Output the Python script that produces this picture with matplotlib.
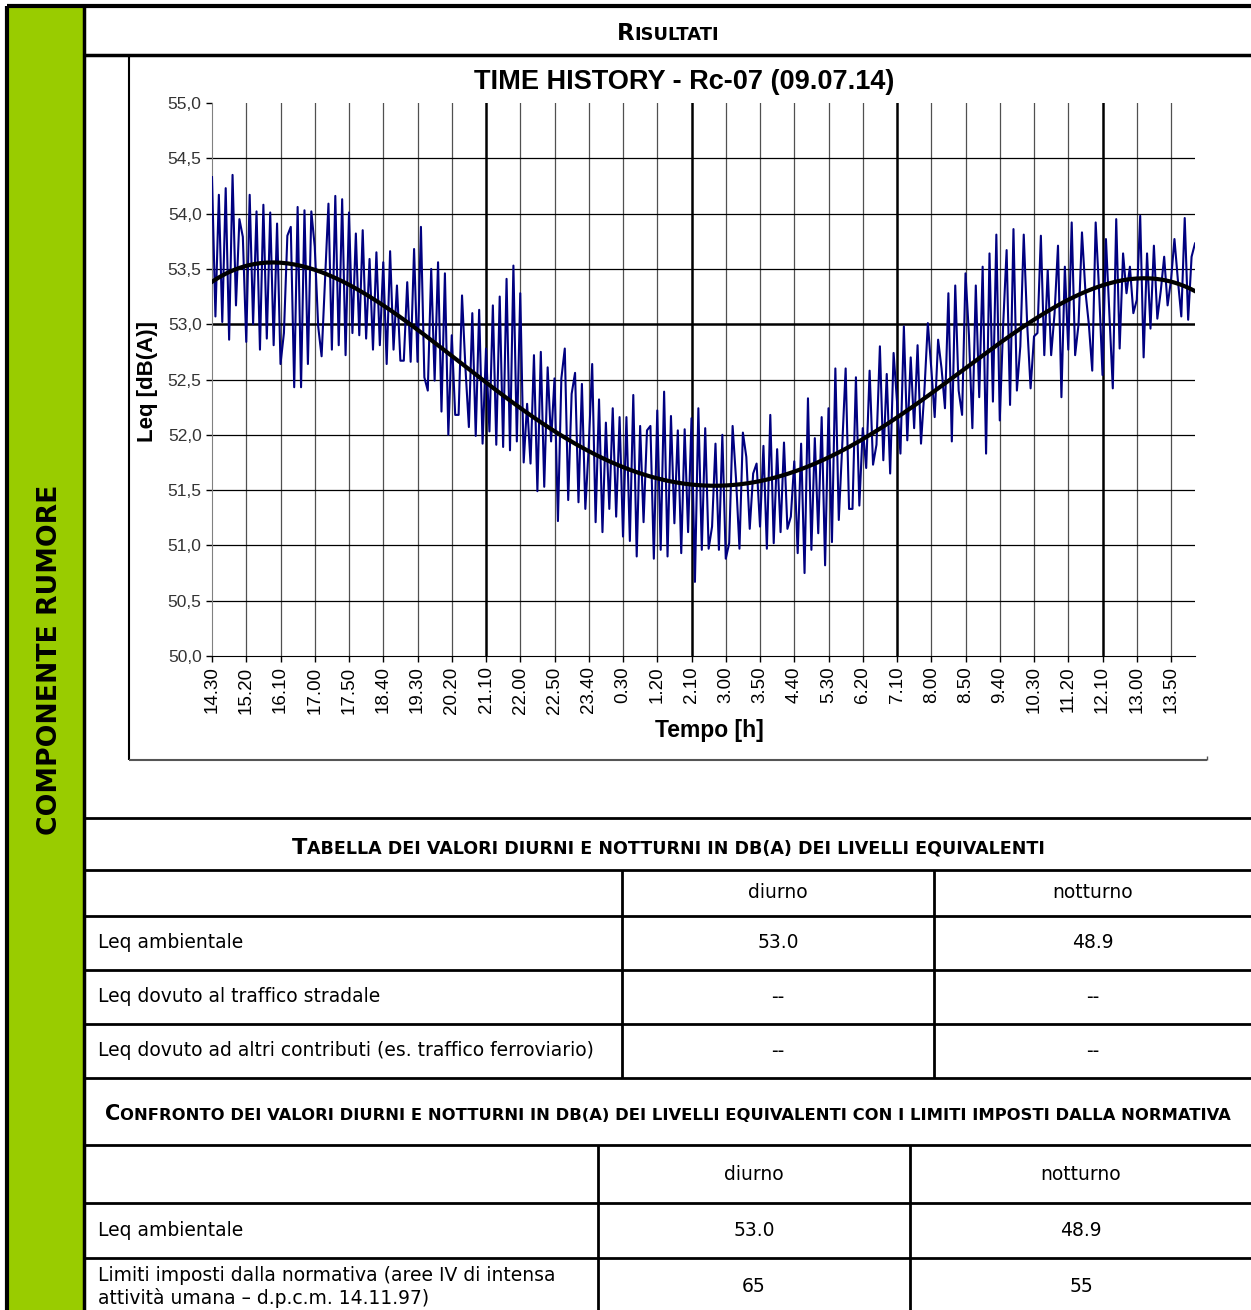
import numpy as np
import matplotlib.pyplot as plt

# Etichette dell'asse dei tempi (una ogni 10 campioni da 5 minuti)
orari = ['14.30', '15.20', '16.10', '17.00', '17.50', '18.40', '19.30', '20.20',
         '21.10', '22.00', '22.50', '23.40', '0.30', '1.20', '2.10', '3.00',
         '3.50', '4.40', '5.30', '6.20', '7.10', '8.00', '8.50', '9.40',
         '10.30', '11.20', '12.10', '13.00', '13.50']
orari_marcati = ['21.10', '2.10', '7.10', '12.10']

# Leq a 5 minuti, dB(A)
leq = [
    54.33, 53.07, 54.17, 53.02, 54.23, 52.86, 54.35, 53.17, 53.95, 53.79,
    52.84, 54.17, 53.00, 54.02, 52.77, 54.08, 52.87, 54.01, 52.81, 53.91,
    52.64, 52.92, 53.80, 53.88, 52.43, 54.06, 52.43, 54.03, 52.64, 54.02,
    53.70, 52.98, 52.71, 53.40, 54.09, 52.77, 54.16, 52.81, 54.13, 52.72,
    54.01, 52.92, 53.82, 52.90, 53.85, 52.87, 53.59, 52.77, 53.65, 52.81,
    53.56, 52.64, 53.66, 52.77, 53.35, 52.67, 52.67, 53.38, 52.66, 53.68,
    52.66, 53.88, 52.52, 52.40, 53.50, 52.49, 53.56, 52.21, 53.46, 52.00,
    52.90, 52.18, 52.18, 53.26, 52.60, 52.07, 53.10, 51.99, 53.13, 51.92,
    52.78, 52.03, 53.17, 51.91, 53.25, 51.89, 53.41, 51.86, 53.53, 51.94,
    53.28, 51.75, 52.28, 51.74, 52.72, 51.49, 52.75,
    51.53, 52.61, 51.94, 52.51, 51.22, 52.51, 52.78, 51.41, 52.37, 52.56,
    51.39, 52.46, 51.33, 51.90, 52.64, 51.21, 52.32, 51.12, 52.11, 51.33,
    52.24, 51.26, 52.16, 51.08, 52.16, 51.04, 52.36, 50.90, 52.08, 51.21,
    52.04, 52.08, 50.88, 52.22, 50.96, 52.39, 50.90, 52.17, 51.20, 52.04,
    50.93, 52.05, 51.12, 52.15, 50.67, 52.24, 50.96, 52.06, 50.97, 51.17,
    51.92, 50.96, 52.00, 50.88, 51.02, 52.08, 51.60, 50.97, 52.02, 51.80,
    51.15, 51.65, 51.74, 51.17, 51.90, 50.97, 52.18, 51.02, 51.87, 51.12,
    51.93, 51.15, 51.26, 51.76, 50.93, 51.92, 50.75, 52.33, 50.96, 51.97,
    51.11, 52.16, 50.82, 52.24, 51.03, 52.60, 51.23, 51.90, 52.60, 51.33,
    51.33, 52.52, 51.36, 52.06, 51.70, 52.58,
    51.73, 51.91, 52.80, 51.77, 52.55, 51.65, 52.74, 52.30, 51.83, 52.98,
    51.95, 52.70, 52.06, 52.81, 51.92, 52.40, 53.01, 52.60, 52.16, 52.86,
    52.60, 52.24, 53.28, 51.94, 53.35, 52.40, 52.18, 53.46, 52.90, 52.06,
    53.35, 52.34, 53.52, 51.83, 53.64, 52.30, 53.81, 52.13, 53.00, 53.67,
    52.27, 53.86, 52.40, 52.80, 53.81, 53.00, 52.42, 52.89, 52.92, 53.80,
    52.72, 53.49, 52.72, 53.10, 53.71, 52.34, 53.52, 52.77, 53.92, 52.72,
    53.00, 53.83, 53.30, 53.00, 52.58, 53.92, 53.30, 52.54, 53.77, 53.10,
    52.42, 53.95, 52.78, 53.64, 53.28, 53.52, 53.10, 53.22, 53.98, 52.70,
    53.64, 52.96, 53.71, 53.05, 53.30, 53.61, 53.17, 53.40, 53.77, 53.40,
    53.07, 53.96, 53.04, 53.61, 53.73,
]

# Tabelle dei livelli equivalenti
voci_tab1 = ['Leq ambientale', 'Leq dovuto al traffico stradale',
             'Leq dovuto ad altri contributi (es. traffico ferroviario)']
diurno_tab1 = ['53.0', '--', '--']
notturno_tab1 = ['48.9', '--', '--']

voci_tab2 = ['Leq ambientale',
             'Limiti imposti dalla normativa (aree IV di intensa\nattività umana – d.p.c.m. 14.11.97)']
diurno_tab2 = ['53.0', '65']
notturno_tab2 = ['48.9', '55']

W, H = 1251, 1310
VERDE = '#99cc00'
FS = 13.5
fig = plt.figure(figsize=(W / 100, H / 100), dpi=100)

# pagina in coordinate pixel
pag = fig.add_axes([0, 0, 1, 1])
pag.set_xlim(0, W)
pag.set_ylim(H, 0)
pag.axis('off')


def linea(x0, y0, x1, y1, lw=2.0, col='black'):
    pag.plot([x0, x1], [y0, y1], color=col, lw=lw, solid_capstyle='butt')


def maiuscoletto(cx, y, testo, size, family='DejaVu Sans'):
    # prima lettera grande, il resto in maiuscolo ridotto
    r = fig.canvas.get_renderer()
    pezzi = [(testo[0], size), (testo[1:].upper(), size * 0.78)]
    oggetti = []
    tot = 0
    for s, fs in pezzi:
        t = pag.text(0, y, s, fontsize=fs, fontweight='bold', family=family,
                     ha='left', va='baseline')
        w = t.get_window_extent(r).width
        oggetti.append((t, w))
        tot += w
    x = cx - tot / 2
    for t, w in oggetti:
        t.set_x(x)
        x += w


# colonna verde laterale e cornice
pag.add_patch(plt.Rectangle((8, 6), 76, H, color=VERDE, lw=0))
linea(7, 6, 7, H, lw=3)
linea(7, 6, W, 6, lw=3)
linea(84, 6, 84, H, lw=2.5)
pag.text(50, 660, 'COMPONENTE RUMORE', rotation=90, fontsize=19.2,
         fontweight='bold', ha='center', va='center', family='DejaVu Sans')

maiuscoletto(668, 40, 'Risultati', 16.5)
linea(84, 55, W, 55, lw=2.5)

# riquadro del grafico
linea(129, 55, 129, 760, lw=1.5)
linea(129, 760, 1207, 760, lw=1.5, col='#555555')
linea(1207, 760, 1207, 756, lw=1.0, col='#555555')

# tabella 1
linea(84, 818, W, 818)
maiuscoletto(668, 854, 'Tabella dei valori diurni e notturni in dB(A) dei livelli equivalenti', 16.2)
for yy in [870, 916, 970, 1024, 1078]:
    linea(84, yy, W, yy)
for xx in [622, 934]:
    linea(xx, 870, xx, 1078)
pag.text(778, 893, 'diurno', fontsize=FS, ha='center', va='center')
pag.text(1093, 893, 'notturno', fontsize=FS, ha='center', va='center')
for k, yy in enumerate([943, 997, 1051]):
    pag.text(98, yy, voci_tab1[k], fontsize=FS, ha='left', va='center')
    pag.text(778, yy, diurno_tab1[k], fontsize=FS, ha='center', va='center')
    pag.text(1093, yy, notturno_tab1[k], fontsize=FS, ha='center', va='center')

# tabella 2
maiuscoletto(668, 1120, 'Confronto dei valori diurni e notturni in dB(A) dei livelli equivalenti con i limiti imposti dalla normativa', 15.1)
for yy in [1145, 1203, 1258]:
    linea(84, yy, W, yy)
for xx in [598, 910]:
    linea(xx, 1145, xx, H)
pag.text(754, 1175, 'diurno', fontsize=FS, ha='center', va='center')
pag.text(1081, 1175, 'notturno', fontsize=FS, ha='center', va='center')
for k, yy in enumerate([1231, 1287]):
    pag.text(98, yy, voci_tab2[k], fontsize=FS, ha='left', va='center',
             linespacing=1.15)
    pag.text(754, yy, diurno_tab2[k], fontsize=FS, ha='center', va='center')
    pag.text(1081, yy, notturno_tab2[k], fontsize=FS, ha='center', va='center')

# grafico della time history
ax = fig.add_axes([212 / W, 1 - 656 / H, 983 / W, 553 / H])
ax.set_facecolor('none')
x = np.arange(len(leq))
ax.plot(x, leq, color='#000080', lw=1.5, zorder=3)
# linea di tendenza polinomiale
coef = np.polyfit(x, leq, 4)
ax.plot(x, np.polyval(coef, x), color='black', lw=3.0, zorder=4)

ax.set_xlim(0, len(leq) - 1)
ax.set_ylim(50, 55)
pos_x = np.arange(0, len(leq), 10)[:len(orari)]
ax.set_xticks(pos_x)
ax.set_xticklabels(orari, rotation=90, fontsize=13.5, family='Liberation Sans',
                   va='top')
yt = np.arange(50, 55.01, 0.5)
ax.set_yticks(yt)
ax.set_yticklabels([f'{v:.1f}'.replace('.', ',') for v in yt], fontsize=12.5,
                   family='Liberation Sans', color='#333333')
ax.tick_params(axis='both', direction='out', length=4.5, width=1, pad=3)

for p, lab in zip(pos_x[1:], orari[1:]):
    lw = 1.8 if lab in orari_marcati else 0.9
    col = 'black' if lab in orari_marcati else '#505050'
    ax.axvline(p, color=col, lw=lw, zorder=1)
for v in yt[1:-1]:
    ax.axhline(v, color='black', lw=1.8 if v == 53.0 else 0.9, zorder=1)

for s in ['top', 'right']:
    ax.spines[s].set_visible(False)
ax.spines['left'].set_color('#808080')
ax.spines['bottom'].set_color('black')

pag.text(684, 82, 'TIME HISTORY - Rc-07 (09.07.14)', fontsize=19.5,
         fontweight='bold', family='Liberation Sans', ha='center', va='center')
pag.text(709, 731, 'Tempo [h]', fontsize=16.5, fontweight='bold',
         family='Liberation Sans', ha='center', va='center')
pag.text(148, 381, 'Leq [dB(A)]', fontsize=16, fontweight='bold', rotation=90,
         family='Liberation Sans', ha='center', va='center')

fig.savefig('out.png', dpi=100)
